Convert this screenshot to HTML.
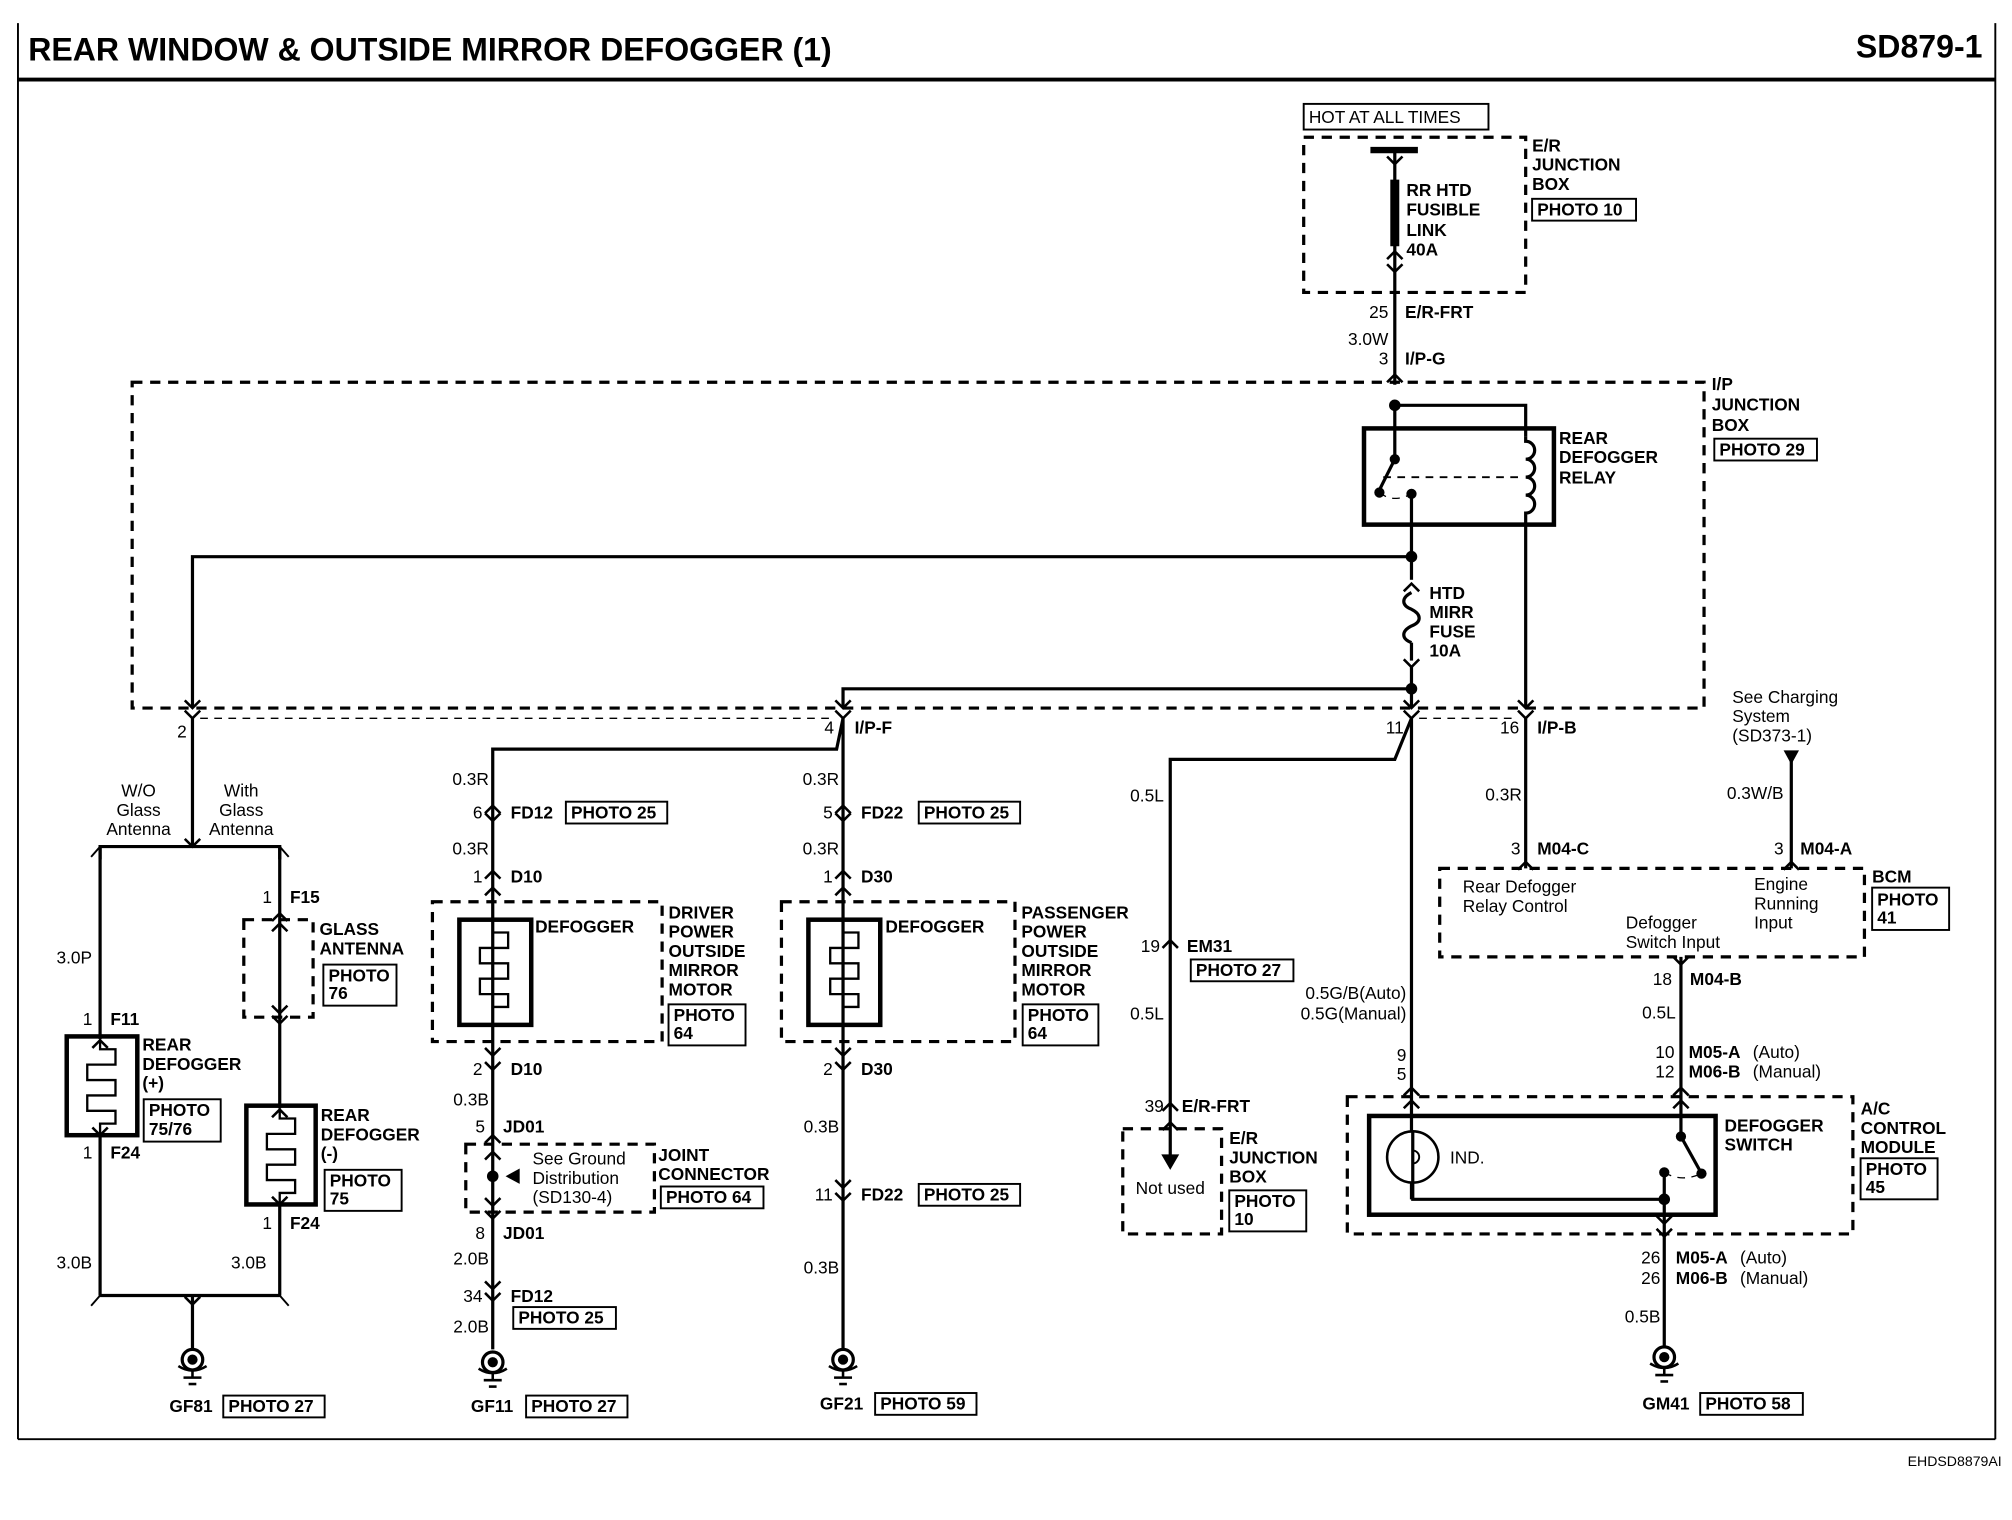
<!DOCTYPE html>
<html><head><meta charset="utf-8">
<style>
html,body{margin:0;padding:0;background:#fff;}
svg{display:block;}
text{font-family:"Liberation Sans",Arial,sans-serif;font-size:13.5px;fill:#000;}
.b{font-weight:bold;}
.t{font-weight:bold;font-size:25px;}
.w{stroke:#000;stroke-width:2.5;fill:none;}
.thin{stroke:#000;stroke-width:1.5;fill:none;}
.d{stroke:#000;stroke-width:2.5;fill:none;stroke-dasharray:8,6;}
.dt{stroke:#000;stroke-width:1;fill:none;stroke-dasharray:6,5;}
.bx{stroke:#000;stroke-width:1.5;fill:none;}
.sb{stroke:#000;stroke-width:3.5;fill:none;}
</style></head><body>
<svg width="2012" height="1520" viewBox="0 0 1568 1185" preserveAspectRatio="none" xmlns="http://www.w3.org/2000/svg">
<defs>
<path id="up" d="M-6,6 L0,0 L6,6" stroke="#000" stroke-width="2" fill="none"/>
<path id="dn" d="M-6,-6 L0,0 L6,-6" stroke="#000" stroke-width="2" fill="none"/>
<g id="gnd"><circle cx="0" cy="0" r="8" stroke="#000" stroke-width="2.5" fill="#fff"/><circle cx="0" cy="0" r="4" fill="#000"/><path d="M-11,5 Q0,12 11,5" stroke="#000" stroke-width="2" fill="none"/><line x1="0" y1="8" x2="0" y2="14" stroke="#000" stroke-width="2"/><line x1="-7" y1="14" x2="7" y2="14" stroke="#000" stroke-width="2"/><line x1="-3" y1="19" x2="3" y2="19" stroke="#000" stroke-width="2"/></g>
<path id="grid" d="M0,0 V8 H12 V20 H-10 V32 H12 V44 H-10 V56 H12 V66 H0 V76" stroke="#000" stroke-width="1.8" fill="none"/>
</defs>

<!-- frame -->
<line x1="14" y1="18" x2="14" y2="1122" class="thin"/>
<line x1="1555" y1="18" x2="1555" y2="1122" class="thin"/>
<line x1="14" y1="1122" x2="1555" y2="1122" class="thin"/>
<line x1="14" y1="62" x2="1555" y2="62" stroke="#000" stroke-width="3"/>
<text x="22" y="47" class="t">REAR WINDOW &amp; OUTSIDE MIRROR DEFOGGER (1)</text>
<text x="1545" y="45" class="t" text-anchor="end">SD879-1</text>
<text x="1560" y="1143" text-anchor="end" style="font-size:11px">EHDSD8879AI</text>

<!-- E/R junction box top -->
<rect x="1016" y="81" width="144" height="20" class="bx"/>
<text x="1020" y="96">HOT AT ALL TIMES</text>
<rect x="1016" y="107" width="173" height="121" class="d"/>
<line x1="1068" y1="117" x2="1105" y2="117" stroke="#000" stroke-width="5"/>
<line x1="1087" y1="117" x2="1087" y2="300" class="w"/>
<use href="#dn" x="1087" y="128"/>
<line x1="1087" y1="140" x2="1087" y2="192" stroke="#000" stroke-width="7"/>
<use href="#up" x="1087" y="196"/><use href="#dn" x="1087" y="212"/>
<text x="1096" y="153" class="b">RR HTD</text><text x="1096" y="168" class="b">FUSIBLE</text><text x="1096" y="184" class="b">LINK</text><text x="1096" y="199" class="b">40A</text>
<text x="1194" y="118" class="b">E/R</text><text x="1194" y="133" class="b">JUNCTION</text><text x="1194" y="148" class="b">BOX</text>
<rect x="1194" y="155" width="81" height="17" class="bx"/><text x="1198" y="168" class="b">PHOTO 10</text>
<text x="1082" y="248" text-anchor="end">25</text><text x="1095" y="248" class="b">E/R-FRT</text>
<text x="1082" y="269" text-anchor="end">3.0W</text>
<text x="1082" y="284" text-anchor="end">3</text><text x="1095" y="284" class="b">I/P-G</text>
<use href="#up" x="1087" y="292"/>

<!-- I/P junction box -->
<rect x="103" y="298" width="1225" height="254" class="d"/>
<text x="1334" y="304" class="b">I/P</text><text x="1334" y="320" class="b">JUNCTION</text><text x="1334" y="336" class="b">BOX</text>
<rect x="1336" y="342" width="80" height="17" class="bx"/><text x="1340" y="355" class="b">PHOTO 29</text>
<circle cx="1087" cy="316" r="4.5" fill="#000"/>
<polyline points="1087,316 1189,316 1189,340" class="w"/>
<rect x="1063" y="334" width="148" height="75" class="sb"/>
<line x1="1087" y1="316" x2="1087" y2="358" class="w"/>
<circle cx="1087" cy="358" r="4" fill="#000"/>
<line x1="1087" y1="358" x2="1075" y2="382" class="w"/>
<circle cx="1075" cy="384" r="4" fill="#000"/>
<path d="M1075,384 Q1085,392 1098,386" class="dt"/>
<circle cx="1100" cy="385" r="4" fill="#000"/>
<line x1="1078" y1="372" x2="1185" y2="372" class="dt" style="stroke-width:1.5"/>
<path d="M1189,340 v4 a7,7 0 0 1 0,14 a7,7 0 0 1 0,14 a7,7 0 0 1 0,14 a7,7 0 0 1 0,14 v8 L1189,552" class="w"/>
<text x="1215" y="346" class="b">REAR</text><text x="1215" y="361" class="b">DEFOGGER</text><text x="1215" y="377" class="b">RELAY</text>
<line x1="1100" y1="385" x2="1100" y2="552" class="w"/>
<circle cx="1100" cy="434" r="4.5" fill="#000"/>
<polyline points="1100,434 150,434 150,552" class="w"/>
<!-- fuse -->
<rect x="1092" y="452" width="16" height="68" fill="#fff"/>
<use href="#up" x="1100" y="455"/>
<path d="M1100,462 c-8,4 -8,10 0,13 c8,4 8,10 0,13 c-8,4 -8,10 0,13" class="w"/>
<line x1="1100" y1="501" x2="1100" y2="515" class="w"/>
<use href="#dn" x="1100" y="520"/>
<text x="1114" y="467" class="b">HTD</text><text x="1114" y="482" class="b">MIRR</text><text x="1114" y="497" class="b">FUSE</text><text x="1114" y="512" class="b">10A</text>
<circle cx="1100" cy="537" r="4.5" fill="#000"/>
<polyline points="1100,537 657,537 657,552" class="w"/>

<!-- connectors at bottom of IP box -->
<use href="#dn" x="150" y="552"/><use href="#dn" x="150" y="560"/>
<use href="#dn" x="657" y="552"/><use href="#dn" x="657" y="560"/>
<use href="#dn" x="1100" y="552"/><use href="#dn" x="1100" y="560"/>
<use href="#dn" x="1189" y="552"/><use href="#dn" x="1189" y="560"/>
<line x1="156" y1="560" x2="651" y2="560" class="dt"/>
<line x1="1106" y1="560" x2="1183" y2="560" class="dt"/>
<text x="138" y="575">2</text>
<text x="650" y="572" text-anchor="end">4</text><text x="666" y="572" class="b">I/P-F</text>
<text x="1094" y="572" text-anchor="end">11</text>
<text x="1184" y="572" text-anchor="end">16</text><text x="1198" y="572" class="b">I/P-B</text>

<!-- left column -->
<line x1="150" y1="560" x2="150" y2="660" class="w"/>
<polyline points="78,670 78,660 218,660 218,670" class="w"/>
<line x1="71" y1="668" x2="78" y2="660" class="thin"/><line x1="225" y1="668" x2="218" y2="660" class="thin"/>
<use href="#dn" x="150" y="660"/>
<text x="108" y="621" text-anchor="middle">W/O</text><text x="108" y="636" text-anchor="middle">Glass</text><text x="108" y="651" text-anchor="middle">Antenna</text>
<text x="188" y="621" text-anchor="middle">With</text><text x="188" y="636" text-anchor="middle">Glass</text><text x="188" y="651" text-anchor="middle">Antenna</text>
<line x1="78" y1="660" x2="78" y2="1010" class="w"/>
<text x="44" y="751">3.0P</text>
<text x="72" y="799" text-anchor="end">1</text><text x="86" y="799" class="b">F11</text>
<rect x="52" y="808" width="55" height="77" class="sb" fill="#fff"/>
<rect x="54" y="810" width="51" height="73" fill="#fff"/>
<use href="#up" x="78" y="811"/><use href="#grid" x="78" y="810"/><use href="#dn" x="78" y="885"/>
<text x="111" y="819" class="b">REAR</text><text x="111" y="834" class="b">DEFOGGER</text><text x="111" y="849" class="b">(+)</text>
<rect x="112" y="857" width="60" height="33" class="bx"/><text x="116" y="870" class="b">PHOTO</text><text x="116" y="885" class="b">75/76</text>
<text x="72" y="903" text-anchor="end">1</text><text x="86" y="903" class="b">F24</text>
<text x="44" y="989">3.0B</text>

<line x1="218" y1="660" x2="218" y2="1010" class="w"/>
<text x="212" y="704" text-anchor="end">1</text><text x="226" y="704" class="b">F15</text>
<use href="#up" x="218" y="712"/>
<rect x="190" y="717" width="54" height="76" class="d"/>
<use href="#up" x="218" y="720"/><use href="#dn" x="218" y="790"/><use href="#dn" x="218" y="798"/>
<text x="249" y="729" class="b">GLASS</text><text x="249" y="744" class="b">ANTENNA</text>
<rect x="252" y="752" width="57" height="32" class="bx"/><text x="256" y="765" class="b">PHOTO</text><text x="256" y="779" class="b">76</text>
<rect x="192" y="862" width="54" height="77" class="sb"/>
<rect x="194" y="864" width="50" height="73" fill="#fff"/>
<use href="#up" x="218" y="865"/><use href="#grid" x="218" y="864"/><use href="#dn" x="218" y="939"/>
<text x="250" y="874" class="b">REAR</text><text x="250" y="889" class="b">DEFOGGER</text><text x="250" y="904" class="b">(-)</text>
<rect x="253" y="912" width="60" height="32" class="bx"/><text x="257" y="925" class="b">PHOTO</text><text x="257" y="939" class="b">75</text>
<text x="212" y="958" text-anchor="end">1</text><text x="226" y="958" class="b">F24</text>
<text x="180" y="989">3.0B</text>
<polyline points="78,1010 218,1010" class="w"/>
<line x1="71" y1="1018" x2="78" y2="1010" class="thin"/><line x1="225" y1="1018" x2="218" y2="1010" class="thin"/>
<line x1="150" y1="1010" x2="150" y2="1052" class="w"/>
<use href="#dn" x="150" y="1017"/>
<use href="#gnd" x="150" y="1060"/>
<text x="132" y="1101" class="b">GF81</text>
<rect x="174" y="1088" width="79" height="17" class="bx"/><text x="178" y="1101" class="b">PHOTO 27</text>

<!-- FD12 column -->
<polyline points="657,560 652,584 384,584 384,1052" class="w"/>
<text x="381" y="612" text-anchor="end">0.3R</text>
<use href="#up" x="384" y="628"/><use href="#dn" x="384" y="640"/>
<text x="376" y="638" text-anchor="end">6</text><text x="398" y="638" class="b">FD12</text>
<rect x="441" y="625" width="79" height="17" class="bx"/><text x="445" y="638" class="b">PHOTO 25</text>
<text x="381" y="666" text-anchor="end">0.3R</text>
<use href="#up" x="384" y="679"/>
<text x="376" y="688" text-anchor="end">1</text><text x="398" y="688" class="b">D10</text>
<rect x="337" y="703" width="179" height="109" class="d"/>
<rect x="358" y="717" width="56" height="82" class="sb" fill="#fff"/>
<use href="#up" x="384" y="692"/><use href="#grid" x="384" y="719"/>
<text x="417" y="727" class="b">DEFOGGER</text>
<text x="521" y="716" class="b">DRIVER</text><text x="521" y="731" class="b">POWER</text><text x="521" y="746" class="b">OUTSIDE</text><text x="521" y="761" class="b">MIRROR</text><text x="521" y="776" class="b">MOTOR</text>
<rect x="521" y="783" width="60" height="32" class="bx"/><text x="525" y="796" class="b">PHOTO</text><text x="525" y="810" class="b">64</text>
<use href="#dn" x="384" y="823"/><use href="#dn" x="384" y="834"/>
<text x="376" y="838" text-anchor="end">2</text><text x="398" y="838" class="b">D10</text>
<text x="381" y="862" text-anchor="end">0.3B</text>
<text x="378" y="883" text-anchor="end">5</text><text x="392" y="883" class="b">JD01</text>
<use href="#up" x="384" y="885"/>
<rect x="363" y="892" width="147" height="53" class="d"/>
<use href="#up" x="384" y="898"/>
<circle cx="384" cy="917" r="4.5" fill="#000"/>
<polygon points="394,917 405,911 405,923" fill="#000"/>
<use href="#dn" x="384" y="940"/><use href="#dn" x="384" y="950"/>
<text x="415" y="908">See Ground</text><text x="415" y="923">Distribution</text><text x="415" y="938">(SD130-4)</text>
<text x="513" y="905" class="b">JOINT</text><text x="513" y="920" class="b">CONNECTOR</text>
<rect x="515" y="925" width="80" height="17" class="bx"/><text x="519" y="938" class="b">PHOTO 64</text>
<text x="378" y="966" text-anchor="end">8</text><text x="392" y="966" class="b">JD01</text>
<text x="381" y="986" text-anchor="end">2.0B</text>
<use href="#dn" x="384" y="1005"/><use href="#dn" x="384" y="1014"/>
<text x="376" y="1015" text-anchor="end">34</text><text x="398" y="1015" class="b">FD12</text>
<rect x="400" y="1019" width="80" height="17" class="bx"/><text x="404" y="1032" class="b">PHOTO 25</text>
<text x="381" y="1039" text-anchor="end">2.0B</text>
<use href="#gnd" x="384" y="1062"/>
<text x="367" y="1101" class="b">GF11</text>
<rect x="410" y="1088" width="79" height="17" class="bx"/><text x="414" y="1101" class="b">PHOTO 27</text>

<!-- FD22 column -->
<line x1="657" y1="560" x2="657" y2="1052" class="w"/>
<text x="654" y="612" text-anchor="end">0.3R</text>
<use href="#up" x="657" y="628"/><use href="#dn" x="657" y="640"/>
<text x="649" y="638" text-anchor="end">5</text><text x="671" y="638" class="b">FD22</text>
<rect x="716" y="625" width="79" height="17" class="bx"/><text x="720" y="638" class="b">PHOTO 25</text>
<text x="654" y="666" text-anchor="end">0.3R</text>
<use href="#up" x="657" y="679"/>
<text x="649" y="688" text-anchor="end">1</text><text x="671" y="688" class="b">D30</text>
<rect x="609" y="703" width="182" height="109" class="d"/>
<rect x="630" y="717" width="56" height="82" class="sb" fill="#fff"/>
<use href="#up" x="657" y="692"/><use href="#grid" x="657" y="719"/>
<text x="690" y="727" class="b">DEFOGGER</text>
<text x="796" y="716" class="b">PASSENGER</text><text x="796" y="731" class="b">POWER</text><text x="796" y="746" class="b">OUTSIDE</text><text x="796" y="761" class="b">MIRROR</text><text x="796" y="776" class="b">MOTOR</text>
<rect x="797" y="783" width="59" height="32" class="bx"/><text x="801" y="796" class="b">PHOTO</text><text x="801" y="810" class="b">64</text>
<use href="#dn" x="657" y="823"/><use href="#dn" x="657" y="834"/>
<text x="649" y="838" text-anchor="end">2</text><text x="671" y="838" class="b">D30</text>
<text x="654" y="883" text-anchor="end">0.3B</text>
<use href="#dn" x="657" y="926"/><use href="#dn" x="657" y="936"/>
<text x="649" y="936" text-anchor="end">11</text><text x="671" y="936" class="b">FD22</text>
<rect x="716" y="923" width="79" height="17" class="bx"/><text x="720" y="936" class="b">PHOTO 25</text>
<text x="654" y="993" text-anchor="end">0.3B</text>
<use href="#gnd" x="657" y="1060"/>
<text x="639" y="1099" class="b">GF21</text>
<rect x="682" y="1086" width="79" height="17" class="bx"/><text x="686" y="1099" class="b">PHOTO 59</text>

<!-- EM31 column -->
<polyline points="1100,560 1087,592 912,592 912,905" class="w"/>
<text x="907" y="625" text-anchor="end">0.5L</text>
<use href="#up" x="912" y="733"/>
<text x="904" y="742" text-anchor="end">19</text><text x="925" y="742" class="b">EM31</text>
<rect x="928" y="748" width="80" height="17" class="bx"/><text x="932" y="761" class="b">PHOTO 27</text>
<text x="907" y="795" text-anchor="end">0.5L</text>
<use href="#up" x="912" y="860"/>
<text x="907" y="867" text-anchor="end">39</text><text x="921" y="867" class="b">E/R-FRT</text>
<rect x="875" y="880" width="77" height="82" class="d"/>
<use href="#up" x="912" y="875"/>
<polygon points="905,900 919,900 912,912" fill="#000"/>
<text x="885" y="931">Not used</text>
<text x="958" y="892" class="b">E/R</text><text x="958" y="907" class="b">JUNCTION</text><text x="958" y="922" class="b">BOX</text>
<rect x="958" y="928" width="60" height="32" class="bx"/><text x="962" y="941" class="b">PHOTO</text><text x="962" y="955" class="b">10</text>

<!-- main 1100 down to AC -->
<line x1="1100" y1="560" x2="1100" y2="935" class="w"/>
<text x="1096" y="779" text-anchor="end">0.5G/B(Auto)</text>
<text x="1096" y="795" text-anchor="end">0.5G(Manual)</text>
<text x="1096" y="827" text-anchor="end">9</text><text x="1096" y="842" text-anchor="end">5</text>
<use href="#up" x="1100" y="848"/><use href="#up" x="1100" y="858"/>

<!-- BCM -->
<line x1="1189" y1="560" x2="1189" y2="677" class="w"/>
<text x="1186" y="624" text-anchor="end">0.3R</text>
<text x="1185" y="666" text-anchor="end">3</text><text x="1198" y="666" class="b">M04-C</text>
<use href="#up" x="1189" y="672"/>
<text x="1350" y="548">See Charging</text><text x="1350" y="563">System</text><text x="1350" y="578">(SD373-1)</text>
<polygon points="1390,585 1402,585 1396,596" fill="#000"/>
<line x1="1396" y1="590" x2="1396" y2="677" class="w"/>
<text x="1390" y="623" text-anchor="end">0.3W/B</text>
<text x="1390" y="666" text-anchor="end">3</text><text x="1403" y="666" class="b">M04-A</text>
<use href="#up" x="1396" y="672"/>
<rect x="1122" y="677" width="331" height="69" class="d"/>
<text x="1140" y="696">Rear Defogger</text><text x="1140" y="711">Relay Control</text>
<text x="1267" y="724">Defogger</text><text x="1267" y="739">Switch Input</text>
<text x="1367" y="694">Engine</text><text x="1367" y="709">Running</text><text x="1367" y="724">Input</text>
<text x="1459" y="688" class="b">BCM</text>
<rect x="1459" y="692" width="60" height="33" class="bx"/><text x="1463" y="706" class="b">PHOTO</text><text x="1463" y="720" class="b">41</text>
<line x1="1310" y1="746" x2="1310" y2="886" class="w"/>
<use href="#dn" x="1310" y="752"/>
<text x="1303" y="768" text-anchor="end">18</text><text x="1317" y="768" class="b">M04-B</text>
<text x="1306" y="794" text-anchor="end">0.5L</text>
<text x="1305" y="825" text-anchor="end">10</text><text x="1316" y="825" class="b">M05-A</text><text x="1366" y="825">(Auto)</text>
<text x="1305" y="840" text-anchor="end">12</text><text x="1316" y="840" class="b">M06-B</text><text x="1366" y="840">(Manual)</text>
<use href="#up" x="1310" y="848"/><use href="#up" x="1310" y="858"/>

<!-- A/C control module -->
<rect x="1050" y="855" width="394" height="107" class="d"/>
<rect x="1067" y="870" width="270" height="77" class="sb"/>
<circle cx="1101" cy="902" r="20" stroke="#000" stroke-width="2" fill="#fff"/>
<line x1="1101" y1="882" x2="1101" y2="922" class="w"/>
<path d="M1101,897 a4,4 0 0 1 0,10" stroke="#000" stroke-width="1.5" fill="none"/>
<text x="1130" y="907" class="b" style="font-weight:normal">IND.</text>
<polyline points="1101,922 1101,935 1297,935" class="w"/>
<circle cx="1310" cy="886" r="4" fill="#000"/>
<line x1="1310" y1="886" x2="1325" y2="913" class="w"/>
<circle cx="1326" cy="915" r="4" fill="#000"/>
<path d="M1297,914 Q1310,922 1326,915" class="dt"/>
<circle cx="1297" cy="914" r="4" fill="#000"/>
<line x1="1297" y1="914" x2="1297" y2="1052" class="w"/>
<circle cx="1297" cy="935" r="4.5" fill="#000"/>
<use href="#dn" x="1297" y="954"/><use href="#dn" x="1297" y="964"/>
<text x="1344" y="882" class="b">DEFOGGER</text><text x="1344" y="897" class="b">SWITCH</text>
<text x="1450" y="869" class="b">A/C</text><text x="1450" y="884" class="b">CONTROL</text><text x="1450" y="899" class="b">MODULE</text>
<rect x="1450" y="903" width="60" height="32" class="bx"/><text x="1454" y="916" class="b">PHOTO</text><text x="1454" y="930" class="b">45</text>
<text x="1294" y="985" text-anchor="end">26</text><text x="1306" y="985" class="b">M05-A</text><text x="1356" y="985">(Auto)</text>
<text x="1294" y="1001" text-anchor="end">26</text><text x="1306" y="1001" class="b">M06-B</text><text x="1356" y="1001">(Manual)</text>
<text x="1294" y="1031" text-anchor="end">0.5B</text>
<use href="#gnd" x="1297" y="1058"/>
<text x="1280" y="1099" class="b">GM41</text>
<rect x="1325" y="1086" width="80" height="17" class="bx"/><text x="1329" y="1099" class="b">PHOTO 58</text>
</svg>
</body></html>
